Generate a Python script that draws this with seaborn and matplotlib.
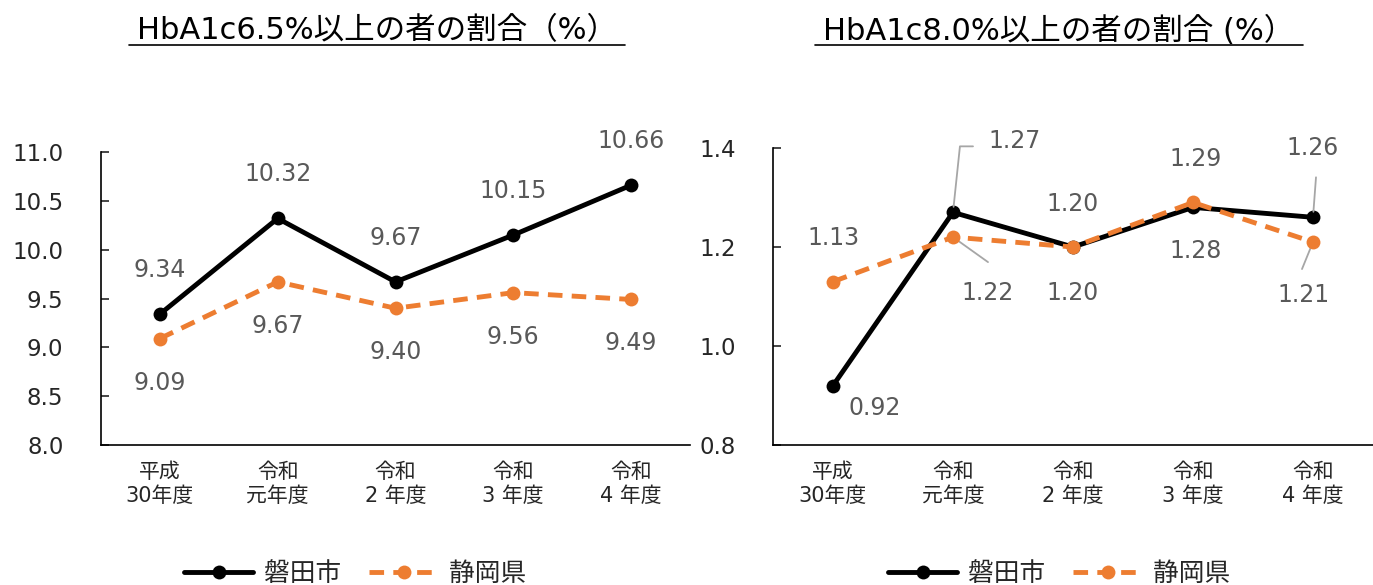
import numpy as np
import matplotlib
matplotlib.use('Agg')
import matplotlib.pyplot as plt
from matplotlib.lines import Line2D
import seaborn as sns

# data
years = ['平成\n30年度', '令和\n元年度', '令和\n2 年度', '令和\n3 年度', '令和\n4 年度']
series_names = ['磐田市', '静岡県']
iwata_65 = [9.34, 10.32, 9.67, 10.15, 10.66]
shizuoka_65 = [9.09, 9.67, 9.40, 9.56, 9.49]
iwata_80 = [0.92, 1.27, 1.20, 1.28, 1.26]
shizuoka_80 = [1.13, 1.22, 1.20, 1.29, 1.21]
titles = ['HbA1c6.5%以上の者の割合（%）', 'HbA1c8.0%以上の者の割合 (%）']
yticks_65 = [8.0, 8.5, 9.0, 9.5, 10.0, 10.5, 11.0]
yticks_80 = [0.8, 1.0, 1.2, 1.4]

sns.set_theme(style='white')
plt.rcParams['font.family'] = ['DejaVu Sans', 'Noto Sans CJK JP']

BLACK = '#000000'
ORANGE = '#ED7D31'
LABEL_C = '#595959'
LEADER_C = '#A6A6A6'
LW = 3.5
MS = 10
DASH = (3.0, 1.9)

# label offsets in pixels (dx, dy) and optional leader line (far end offset, bent?)
left_black = [((0, 44), None)] * 5
left_orange = [((0, -44), None)] * 5
right_black = [((42, -22), None),
               ((62, 71), ((20, 66), True)),
               ((0, 43), None),
               ((3, -44), None),
               ((0, 69), ((3, 40), False))]
right_orange = [((0, 44), None),
                ((35, -56), ((35, -25), False)),
                ((0, -46), None),
                ((3, 43), None),
                ((-10, -53), ((-11, -27), False))]


def label_points(ax, x, vals, specs):
    for xi, v, (off, leader) in zip(x, vals, specs):
        ax.annotate(f'{v:.2f}', xy=(xi, v), xytext=off, textcoords='offset pixels',
                    ha='center', va='center', fontsize=17, color=LABEL_C, zorder=5)
        if leader is not None:
            end, bent = leader
            cs = 'angle,angleA=0,angleB=84,rad=0' if bent else 'arc3'
            ax.annotate('', xy=(xi, v), xytext=end, textcoords='offset pixels',
                        arrowprops=dict(arrowstyle='-', color=LEADER_C, lw=1.3,
                                        shrinkA=0, shrinkB=4, connectionstyle=cs))


def draw_panel(ax, vals_a, vals_b, ylim, yticks, specs_a, specs_b):
    x = np.arange(len(years))
    sns.lineplot(x=x, y=vals_a, ax=ax, color=BLACK, lw=LW, marker='o',
                 markersize=MS, markeredgewidth=0, legend=False, zorder=3)
    sns.lineplot(x=x, y=vals_b, ax=ax, color=ORANGE, lw=LW, marker='o',
                 markersize=MS, markeredgewidth=0, legend=False, zorder=4)
    ax.lines[1].set_dashes(DASH)

    ax.set_xlim(-0.5, len(years) - 0.5)
    ax.set_ylim(*ylim)
    ax.set_xticks(x)
    ax.set_xticklabels(years, fontsize=15, linespacing=1.25)
    ax.set_yticks(yticks)
    ax.set_yticklabels([f'{t:.1f}' for t in yticks])
    ax.tick_params(axis='y', direction='in', length=6, width=1.2, pad=27,
                   labelsize=16.5, labelcolor='#262626', left=True)
    ax.tick_params(axis='x', length=0, pad=12, labelcolor='#262626')
    for side in ['top', 'right']:
        ax.spines[side].set_visible(False)
    for side in ['left', 'bottom']:
        ax.spines[side].set_color('black')
        ax.spines[side].set_linewidth(1.2)
    ax.set_xlabel('')
    ax.set_ylabel('')

    label_points(ax, x, vals_a, specs_a)
    label_points(ax, x, vals_b, specs_b)


W, H = 1373, 585
fig = plt.figure(figsize=(W / 100, H / 100), dpi=100)
ax1 = fig.add_axes([101 / W, 140 / H, 589 / W, 293 / H])
ax2 = fig.add_axes([773 / W, 140 / H, 600 / W, 297 / H])

draw_panel(ax1, iwata_65, shizuoka_65, (8.0, 11.0), yticks_65, left_black, left_orange)
draw_panel(ax2, iwata_80, shizuoka_80, (0.8, 1.4), yticks_80, right_black, right_orange)

# titles with underline
title_objs = []
for tx, t in zip([377 / W, 1059 / W], titles):
    title_objs.append(fig.text(tx, 1 - 31 / H, t, ha='center', va='center',
                               fontsize=22, color='black'))

# legends under each panel
for cx in [355 / W, 1059 / W]:
    handles = [Line2D([], [], color=BLACK, lw=LW, marker='o', markersize=MS, markeredgewidth=0),
               Line2D([], [], color=ORANGE, lw=LW, marker='o', markersize=MS, markeredgewidth=0,
                      dashes=DASH)]
    fig.legend(handles, series_names, loc='center', bbox_to_anchor=(cx, 1 - 574 / H),
               ncol=2, frameon=False, fontsize=18.5, handlelength=2.7,
               handletextpad=0.4, columnspacing=1.1)

fig.canvas.draw()
renderer = fig.canvas.get_renderer()
for t in title_objs:
    bb = t.get_window_extent(renderer)
    y = (bb.y0 + 1) / H
    fig.add_artist(Line2D([(bb.x0 - 8) / W, (bb.x1 + 8) / W], [y, y],
                          color='black', lw=1.2, transform=fig.transFigure))

fig.savefig('out.png', dpi=100)
